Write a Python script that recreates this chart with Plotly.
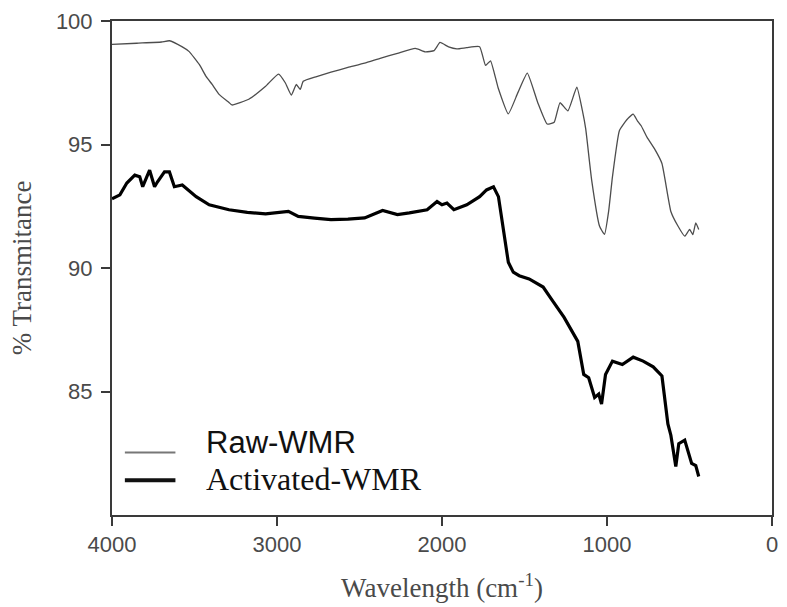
import plotly.graph_objects as go

# Raw-WMR spectrum (wavenumber cm-1, % transmittance)
raw_x = [4000, 3850, 3700, 3652, 3574, 3532, 3471, 3430, 3393, 3351, 3291, 3273, 3171, 3069,
         2991, 2950, 2913, 2883, 2859, 2841, 2760, 2673, 2570, 2469, 2370, 2270, 2162, 2100,
         2048, 2012, 1960, 1910, 1850, 1772, 1736, 1706, 1660, 1598, 1540, 1483, 1420, 1363,
         1320, 1285, 1237, 1183, 1150, 1129, 1093, 1045, 1015, 990, 967, 925, 880, 841, 815,
         793, 757, 710, 667, 613, 570, 529, 499, 480, 462, 444]
raw_y = [99.05, 99.1, 99.15, 99.2, 98.95, 98.76, 98.24, 97.76, 97.43, 97.03, 96.7, 96.6, 96.83, 97.36,
         97.85, 97.5, 97.0, 97.43, 97.23, 97.56, 97.75, 97.93, 98.12, 98.29, 98.5, 98.69, 98.89, 98.75,
         98.8, 99.13, 98.95, 98.87, 98.92, 98.96, 98.2, 98.39, 97.3, 96.24, 97.1, 97.89, 96.7, 95.83,
         95.9, 96.69, 96.36, 97.32, 96.4, 95.63, 93.56, 91.69, 91.36, 92.3, 93.69, 95.56, 96.0, 96.23, 95.95,
         95.76, 95.29, 94.8, 94.23, 92.29, 91.7, 91.29, 91.56, 91.35, 91.83, 91.56]

# Activated-WMR spectrum
act_x = [4000, 3952, 3910, 3862, 3832, 3814, 3772, 3742, 3724, 3682, 3652, 3622, 3574, 3490,
         3411, 3291, 3180, 3069, 2931, 2871, 2773, 2673, 2570, 2469, 2360, 2270, 2198, 2090,
         2030, 2000, 1970, 1928, 1850, 1772, 1730, 1688, 1658, 1628, 1598, 1568, 1532, 1472,
         1387, 1339, 1260, 1177, 1141, 1111, 1075, 1050, 1033, 1009, 967, 907, 841, 781,
         720, 667, 631, 613, 601, 583, 565, 529, 487, 462, 444]
act_y = [92.8, 92.96, 93.44, 93.76, 93.69, 93.29, 93.96, 93.29, 93.49, 93.89, 93.89, 93.29, 93.36, 92.89,
         92.56, 92.36, 92.25, 92.19, 92.29, 92.09, 92.02, 91.96, 91.98, 92.03, 92.33, 92.16, 92.23, 92.36,
         92.69, 92.56, 92.63, 92.36, 92.56, 92.89, 93.16, 93.29, 92.89, 91.56, 90.23, 89.83, 89.69, 89.56,
         89.23, 88.76, 88.0, 87.03, 85.69, 85.56, 84.76, 84.9, 84.49, 85.69, 86.23, 86.09, 86.39, 86.23,
         86.0, 85.63, 83.69, 83.23, 82.63, 81.96, 82.89, 83.03, 82.09, 82.0, 81.56]

series_names = ["Raw-WMR", "Activated-WMR"]
x_ticks = [4000, 3000, 2000, 1000, 0]
y_ticks = [85, 90, 95, 100]

AX = "#3a3a3a"
LBL = "#4a4a4a"

fig = go.Figure()
fig.add_trace(go.Scatter(x=raw_x, y=raw_y, mode="lines", name=series_names[0],
                         line=dict(color="#4d4d4d", width=1.3, shape="spline", smoothing=0.4),
                         showlegend=False))
fig.add_trace(go.Scatter(x=act_x, y=act_y, mode="lines", name=series_names[1],
                         line=dict(color="#000000", width=3.2), showlegend=False))

# legend drawn manually to match the reference
fig.add_shape(type="line", xref="paper", yref="paper", x0=0.0195, x1=0.0961, y0=0.1263, y1=0.1263,
              line=dict(color="#777777", width=2))
fig.add_shape(type="line", xref="paper", yref="paper", x0=0.0195, x1=0.0961, y0=0.0701, y1=0.0701,
              line=dict(color="#111111", width=4))
fig.add_annotation(xref="paper", yref="paper", x=0.1396, y=0.1463, xanchor="left", yanchor="middle",
                   text=series_names[0], showarrow=False,
                   font=dict(family="Liberation Sans, Arial", size=31, color="#111111"))
fig.add_annotation(xref="paper", yref="paper", x=0.1396, y=0.072, xanchor="left", yanchor="middle",
                   text=series_names[1], showarrow=False,
                   font=dict(family="Liberation Serif, Times New Roman", size=32, color="#111111"))

fig.update_layout(
    width=787, height=607,
    margin=dict(l=112, r=9, t=19, b=89),
    paper_bgcolor="white", plot_bgcolor="white",
    xaxis=dict(range=[4000, 0], tickvals=x_ticks, ticktext=[str(v) for v in x_ticks],
               showline=True, mirror=True, linecolor=AX, linewidth=2,
               ticks="outside", ticklen=9, tickwidth=2, tickcolor=AX,
               showgrid=False, zeroline=False,
               tickfont=dict(family="Liberation Sans, Arial", size=22, color=LBL),
               title=dict(text="Wavelength (cm<sup>-1</sup>)", standoff=22,
                          font=dict(family="Liberation Serif, Times New Roman", size=27, color=LBL))),
    yaxis=dict(range=[80, 100], tickvals=y_ticks, ticktext=[str(v) for v in y_ticks],
               showline=True, mirror=True, linecolor=AX, linewidth=2,
               ticks="outside", ticklen=9, tickwidth=2, tickcolor=AX,
               showgrid=False, zeroline=False, ticklabelstandoff=4,
               tickfont=dict(family="Liberation Sans, Arial", size=22, color=LBL),
               title=dict(text="% Transmitance", standoff=16,
                          font=dict(family="Liberation Serif, Times New Roman", size=27, color=LBL))),
)

fig.write_html("out.html")
